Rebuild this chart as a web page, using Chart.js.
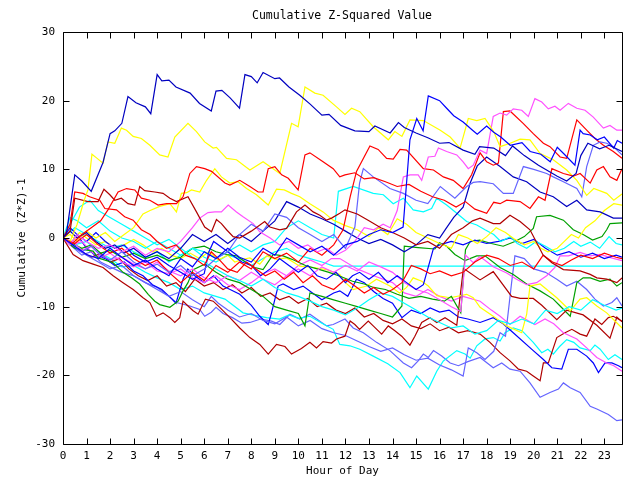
<!DOCTYPE html>
<html><head><meta charset="utf-8">
<script src="https://cdn.jsdelivr.net/npm/chart.js@4/dist/chart.umd.min.js"></script>
<style>html,body{margin:0;padding:0;background:#fff}#wrap{width:640px;height:480px}</style>
</head><body><div id="wrap"><canvas id="c" width="640" height="480"></canvas></div>
<script>
const chartTitle = "Cumulative Z-Squared Value";
const xTitle = "Hour of Day";
const yTitle = "Cumulative (Z*Z)-1";
const hourTicks = [0,1,2,3,4,5,6,7,8,9,10,11,12,13,14,15,16,17,18,19,20,21,22,23];
const valueTicks = [-30,-20,-10,0,10,20,30];

// each series: [hour, cumulative value]
const darkBlue1 = [[0,0],[0.15,0.7],[0.5,9.2],[0.8,8.3],[1.2,6.8],[1.7,11],[2,15.2],[2.2,15.6],[2.5,16.7],[2.76,20.6],[3.1,19.7],[3.5,19.1],[3.73,18.1],[4,23.8],[4.2,22.9],[4.5,23],[4.8,22],[5.4,21.1],[5.8,19.6],[6.3,18.5],[6.5,21.4],[6.75,21.5],[7.1,20.4],[7.5,18.9],[7.73,23.8],[8,23.5],[8.25,22.6],[8.5,24.1],[9,23.2],[9.2,23.3],[9.6,22],[10.06,20.8],[10.5,19.5],[11,17.9],[11.3,18],[11.8,16.4],[12.4,15.6],[13,15.5],[13.25,16.3],[13.9,15.3],[14.25,16.8],[14.5,16.1],[15,15.3],[15.5,14.6],[16,13.8],[16.4,13.9],[17,12.8],[17.5,12.2],[17.7,13.3],[18.3,13.1],[18.8,12],[19.1,13.4],[19.6,12],[20.2,10.6],[20.6,9.8],[21,9],[21.4,8.3],[21.8,9.4],[22,12],[22.3,13.8],[22.8,13],[23.2,13.5],[23.75,12.6]];
const blue2 = [[0,0],[0.5,-1.2],[1,-2.4],[1.5,-3],[2,-1.5],[2.5,-2.8],[3,-4],[3.5,-3.2],[4,-4.5],[4.5,-5.5],[5,-3],[5.5,-4.2],[6,-2],[6.5,-3],[7,-1.5],[7.5,-2.8],[8,-3.5],[8.5,-1.5],[9,-2.5],[9.5,0],[10,-1],[10.5,-2],[11,-1.2],[11.5,-2.5],[12,-1],[12.5,-0.5],[13,0.5],[13.5,1.2],[14,0.8],[14.45,1.6],[14.74,14.3],[15.03,17.4],[15.3,15.6],[15.52,20.7],[16,20],[16.3,18.9],[16.6,17.8],[17,16.9],[17.4,15.7],[17.6,15.1],[18,16.3],[18.3,15.4],[18.6,14.7],[19,13.5],[19.5,13.9],[19.85,12.6],[20.3,12.2],[20.7,11.1],[21,13.2],[21.3,12.2],[21.75,10.6],[21.97,15.7],[22.1,15.2],[22.4,15],[22.7,14.3],[23,14.7],[23.4,13.1],[23.55,14.2],[23.75,13.8]];
const blue3 = [[0,0],[0.3,-1],[0.6,0.5],[1,-1.5],[1.4,-2.5],[1.8,-3],[2.2,-4],[2.6,-3.5],[3,-4.8],[3.4,-5.5],[3.8,-6.8],[4.2,-7.5],[4.6,-8.8],[4.8,-9.5],[5.1,-6],[5.3,-4.5],[5.6,-5.5],[6,-6.5],[6.4,-5.5],[6.8,-7],[7.1,-7.5],[7.51,-8.2],[8,-9.8],[8.36,-11.4],[8.72,-12.6],[8.86,-10.9],[9.14,-7],[9.35,-6.7],[9.8,-7.5],[10.2,-7],[10.6,-8],[11,-9],[11.5,-8],[11.76,-7.7],[12.1,-8.5],[12.47,-6],[12.8,-6.5],[13.2,-7.8],[13.6,-8.8],[14,-9.5],[14.4,-11.6],[14.8,-10.5],[15.2,-11],[15.6,-10.2],[16,-10.8],[16.4,-10.5],[16.8,-11.5],[17.2,-11.8],[17.72,-12.3],[18.28,-11.6],[18.7,-12.5],[19.13,-13.8],[19.98,-16.4],[20.41,-17.7],[20.77,-18.9],[21.19,-19.1],[21.47,-16.2],[21.83,-16.2],[22.25,-17.2],[22.53,-18.2],[22.75,-19.6],[23.03,-18.2],[23.32,-18.2],[23.6,-18.6],[23.75,-18.9]];
const darkBlue4 = [[0,0],[0.3,1],[0.6,0],[1,0.8],[1.4,-0.5],[1.8,-1.5],[2.2,-1],[2.6,-2.2],[3,-1.5],[3.5,-2.8],[4,-2],[4.5,-3],[5,-1.5],[5.5,0.5],[6,-0.5],[6.5,0.5],[7,-0.8],[7.5,0.5],[8,-0.5],[8.5,1],[9,2.5],[9.5,5.3],[10,4.5],[10.5,3.5],[11,2.8],[11.5,2],[12,1],[12.5,0],[13,-0.8],[13.5,-0.2],[14,-1],[14.5,-2],[15,-1],[15.5,0.5],[16,0],[16.3,1.5],[16.6,3],[17,4.5],[17.3,8],[17.6,10.5],[18,11.8],[18.57,10.4],[19.13,8.9],[19.7,8.2],[20.27,6.7],[20.83,6],[21.4,4.6],[21.83,5.5],[22.25,4.1],[22.82,3.8],[23.38,2.9],[23.75,2.9]];
const blue6 = [[0,0],[0.3,1.5],[0.6,0.5],[1,-0.5],[1.4,0.8],[1.8,-0.5],[2.2,-1.5],[2.6,-1],[3,-2.5],[3.5,-3.5],[4,-2.8],[4.5,-4],[5,-5],[5.5,-6],[6,-5.2],[6.2,-2],[6.4,-0.5],[6.8,-1.5],[7.2,-2.5],[7.6,-3.5],[8,-4],[8.4,-5.5],[8.8,-4.5],[9.2,-3],[9.6,-4],[10,-5],[10.4,-4],[10.8,-5.5],[11.2,-6],[11.6,-5],[12,-6.5],[12.3,-5.5],[12.6,-5],[13,-6],[13.4,-5],[13.8,-6.5],[14.2,-5.5],[14.6,-6.5],[15,-7.5],[15.31,-6.8],[15.74,-1.5],[16,-1],[16.5,-0.5],[17,-1],[17.5,-0.3],[18,-0.8],[18.5,-0.5],[19,0],[19.5,-0.8],[20,-0.2],[20.5,-1.5],[21,-2.5],[21.5,-2],[22,-2.8],[22.5,-2.2],[23,-3],[23.5,-2.5],[23.75,-2.8]];
const lightBlue1 = [[0,0],[0.4,-1],[0.8,-2],[1.2,-1.2],[1.6,-2.5],[2,-3.2],[2.5,-2],[3,-3.5],[3.5,-4.5],[4,-3.8],[4.5,-5],[5,-4],[5.5,-5.5],[6,-4.5],[6.5,-3],[7,-2],[7.5,0.5],[8,2],[8.5,1],[9,3.5],[9.5,3],[10,1.5],[10.5,0.5],[11,-0.5],[11.5,0.5],[12,-1.5],[12.4,1.6],[12.6,8],[12.76,10.1],[13.18,8.9],[13.89,7.2],[14.46,6.5],[15,5.5],[15.5,5],[16.03,7.5],[16.65,5.8],[17.15,7.5],[17.43,8.1],[17.72,8.2],[18.28,7.9],[18.71,6.5],[19.13,6.5],[19.56,10.4],[20,10],[20.55,9.4],[20.83,8.9],[21.26,8.2],[21.83,7.2],[22.04,6],[22.25,10.4],[22.53,13.5],[22.82,14],[23.1,13.8],[23.38,13.3],[23.75,12.1]];
const lightBlue2 = [[0,0],[0.4,-1.3],[0.8,-2.5],[1.2,-2],[1.6,-3.5],[2,-4.2],[2.5,-5],[3,-5.5],[3.5,-6.5],[4,-7.2],[4.5,-8.5],[4.82,-9.4],[5.39,-9.9],[5.81,-10.4],[6.02,-11.4],[6.3,-10.8],[6.5,-10.1],[6.8,-11],[7.2,-11.6],[7.6,-12.4],[7.94,-12.3],[8.4,-11.8],[8.86,-12.1],[9.21,-12.6],[9.64,-11.1],[10.06,-11.8],[10.49,-11.1],[11.2,-12.8],[11.48,-12.6],[11.98,-11.8],[12.33,-13.1],[12.76,-13.8],[13.32,-15.2],[13.89,-16.4],[14.46,-18.2],[14.81,-18.9],[15.09,-17.9],[15.31,-16.9],[15.52,-17.4],[15.74,-16.4],[16.09,-17.2],[16.45,-18.2],[16.8,-18.6],[17.2,-18],[17.72,-17.4],[18.28,-18.9],[18.64,-18.2],[18.99,-19.1],[19.42,-19.4],[19.84,-21.1],[20.27,-23.2],[20.69,-22.5],[21.05,-22],[21.26,-21.1],[21.55,-21.8],[21.97,-22.5],[22.4,-24.5],[22.68,-24.9],[23.17,-25.7],[23.53,-26.6],[23.75,-26.5]];
const lightBlue3 = [[0,0],[0.5,-1.5],[1,-2.5],[1.5,-3.5],[2,-4.5],[2.5,-4],[3,-5.5],[3.5,-6.5],[4,-7.5],[4.5,-8.5],[5,-7.8],[5.5,-9],[6,-10],[6.3,-8.5],[6.6,-9.5],[7,-10.5],[7.5,-11.5],[8,-11],[8.5,-12],[9,-12.5],[9.5,-11.5],[10,-12.8],[10.5,-12],[11,-13.2],[11.5,-13.8],[12,-14.2],[12.5,-15],[13,-15.8],[13.5,-16.5],[14,-16],[14.5,-17],[15,-17.8],[15.5,-17.5],[16,-18.5],[16.5,-19.2],[17,-20.1],[17.22,-16],[17.58,-16.7],[17.93,-17.7],[18.3,-16.5],[18.57,-13.8],[18.8,-14.3],[19.06,-6.5],[19.2,-2.6],[19.6,-3],[20,-4.5],[20.5,-5],[20.98,-6],[21.4,-7],[21.83,-6.3],[22.25,-7.5],[22.6,-8.9],[22.96,-9.9],[23.32,-9.4],[23.53,-8.7],[23.75,-9.9]];
const red1 = [[0,0],[0.4,-0.8],[0.8,0.5],[1.2,1.5],[1.6,2.5],[1.91,4.1],[2.34,6.7],[2.7,7.2],[3.05,7],[3.33,5.8],[3.69,5.5],[4.04,4.8],[4.4,5],[4.82,5],[5.1,6],[5.39,9.4],[5.67,10.4],[6.02,10.1],[6.31,9.7],[6.88,8],[7.09,7.7],[7.51,8.4],[7.94,7.5],[8.29,6.7],[8.5,6.7],[8.72,10.1],[9,10.4],[9.29,9.2],[9.57,8.7],[9.99,7],[10.28,12.1],[10.49,12.4],[11.05,11.1],[11.48,10.1],[11.76,8.9],[11.98,9.2],[12.4,9.5],[12.8,8.6],[13.2,8.8],[13.7,8.2],[14.2,7.5],[14.7,7.8],[15.2,6.8],[15.7,6],[16.2,5.5],[16.7,4.5],[17.1,5.3],[17.5,4.2],[18,3.6],[18.3,5.2],[18.57,5],[18.85,5.5],[19.42,5.3],[19.84,4.3],[20.2,6],[20.48,5.5],[20.77,10.1],[21.26,9.4],[21.68,9],[21.97,9.4],[22.4,8],[22.68,9.9],[22.96,10.4],[23.24,8.9],[23.53,8.4],[23.75,10.1]];
const red2 = [[0,0],[0.5,-0.8],[1,0.5],[1.5,-1],[2,-2.2],[2.5,-1.5],[3,-3],[3.5,-4],[4,-3.2],[4.5,-5],[5,-6.5],[5.5,-5],[6,-6.2],[6.5,-4],[7,-5],[7.5,-3.5],[8,-4.5],[8.5,-2],[9,-3],[9.5,-2.2],[10,-3.5],[10.5,-1.5],[11,-2.5],[11.5,-1],[11.9,1.2],[12.2,6],[12.47,9.7],[13.04,13.4],[13.39,12.9],[13.75,11.6],[14.03,11.5],[14.32,12.9],[14.6,12.8],[15.31,10.1],[15.74,9.9],[16.16,8.9],[16.58,8.4],[17,7.2],[17.36,9.2],[17.72,12.4],[18,11.1],[18.28,10.6],[18.5,10.9],[18.71,18.4],[18.99,18.5],[19.55,16.7],[19.98,15.2],[20.41,13.8],[20.69,13.3],[21.12,11.8],[21.4,11.6],[21.83,17.2],[22.25,15.7],[22.6,14.5],[22.96,13.5],[23.38,12.6],[23.75,11.6]];
const red3 = [[0,0],[0.3,2],[0.5,6.7],[0.85,6.5],[1.13,6],[1.56,5.5],[1.78,4.3],[2.27,4.1],[2.62,3.1],[2.98,2.6],[3.33,1.2],[3.7,0.5],[4,-0.5],[4.4,-1.5],[4.8,-1],[5.2,-2.5],[5.6,-3],[6,-4],[6.3,-2],[6.6,-3],[7,-4.5],[7.4,-5],[7.8,-3.5],[8.2,-4.5],[8.6,-5.5],[9,-4.8],[9.4,-6],[9.8,-5],[10.2,-6.5],[10.6,-5.5],[11,-6.8],[11.5,-7.5],[12,-6],[12.4,-7],[12.8,-8],[13.2,-7.2],[13.6,-8.2],[14,-7.5],[14.4,-6.5],[14.8,-4],[15.2,-4.5],[15.6,-5.2],[16,-4.8],[16.5,-5.5],[17,-5],[17.5,-3.5],[18,-2.5],[18.5,-3],[19,-4],[19.5,-3.5],[20,-4.5],[20.4,-2.5],[20.8,-3.5],[21.2,-4],[21.6,-3.2],[22,-2.5],[22.5,-3],[23,-2.2],[23.5,-2.8],[23.75,-3]];
const darkRed1 = [[0,0],[0.3,1],[0.5,5.8],[1.06,5.3],[1.49,5.3],[1.74,7.1],[1.99,6.3],[2.2,5.5],[2.48,5.8],[2.76,5],[3.05,4.8],[3.26,7.5],[3.47,6.9],[3.9,6.7],[4.25,6.5],[4.54,5.8],[4.82,5.3],[5.31,6],[5.67,3.8],[6.02,1.6],[6.31,0.9],[6.52,2.7],[6.73,2.1],[6.95,1.2],[7.23,0.2],[7.5,0],[8,1],[8.57,2.4],[8.79,1.6],[9.21,1.2],[9.5,1.4],[9.92,3.8],[10.28,4.8],[10.63,3.8],[10.91,3.3],[11.2,2.6],[11.41,2.9],[11.76,3.6],[11.98,4.1],[12.5,3.5],[13,2.5],[13.5,1.5],[14,0.8],[14.5,0],[15,-1],[15.5,-0.5],[16,-1.5],[16.5,0.5],[17,1.5],[17.4,2.5],[17.72,2.9],[18.28,2.1],[18.57,2.1],[18.99,3.3],[19.42,2.4],[19.84,1.2],[20.1,-0.5],[20.4,-2.5],[20.77,-3.6],[21.26,-4.6],[21.97,-4.8],[22.4,-5.3],[22.68,-5.8],[23.1,-6],[23.53,-6.5],[23.75,-5.8]];
const darkRedLow = [[0,0],[0.43,-2.4],[0.85,-3.3],[1.28,-3.8],[1.7,-4.3],[2.13,-5.5],[2.55,-6.5],[2.98,-7.5],[3.4,-8.7],[3.69,-9.4],[3.97,-11.4],[4.25,-10.9],[4.54,-11.6],[4.75,-12.3],[4.96,-11.6],[5.1,-9.2],[5.31,-9.9],[5.53,-10.6],[5.74,-11.1],[6.05,-8.9],[6.38,-9.2],[6.66,-10.1],[7.09,-11.6],[7.51,-13.1],[7.94,-14.5],[8.36,-15.5],[8.72,-16.9],[9.07,-15.5],[9.43,-15.8],[9.71,-16.9],[10.13,-16.1],[10.49,-15.2],[10.77,-16],[11.05,-15.1],[11.41,-15.3],[11.62,-14.7],[11.98,-14.3],[12.2,-12.1],[12.4,-12.6],[12.6,-13.3],[12.97,-12.1],[13.18,-12.8],[13.54,-14],[13.82,-12.8],[14.1,-13.5],[14.39,-14.3],[14.74,-15.6],[14.95,-14.3],[15.24,-12.3],[15.59,-11.6],[15.88,-12.3],[16.23,-11.6],[16.45,-12.1],[16.73,-12.7],[17.01,-4.4],[17.72,-6.1],[18.28,-4.9],[19.06,-8.5],[19.42,-8.8],[19.98,-8.8],[20.34,-9.8],[20.98,-11.9],[21.4,-10.5],[22.1,-11.2],[22.68,-12.7],[23.24,-14.6],[23.53,-11.5],[23.75,-12.2]];
const darkRed4 = [[0,0],[0.4,-1.2],[0.8,-2],[1.2,-2.8],[1.6,-2.2],[2,-3.5],[2.4,-3],[2.8,-4.5],[3.2,-5.5],[3.6,-6.2],[4,-5.5],[4.4,-7],[4.8,-6.5],[5.2,-7.8],[5.6,-6],[6,-7],[6.4,-6.5],[6.8,-7.5],[7.2,-6.8],[7.6,-8],[8,-7.2],[8.4,-8.5],[8.8,-8],[9.2,-9],[9.6,-8.5],[10,-9.5],[10.4,-8.8],[10.8,-10],[11.2,-9.5],[11.6,-10.5],[12,-11],[12.4,-10.2],[12.8,-11.5],[13.2,-11],[13.6,-12],[14,-12.5],[14.4,-11.8],[14.8,-12.8],[15.2,-13.2],[15.6,-12.5],[16,-13.5],[16.4,-13],[16.8,-13.8],[17.2,-13.5],[17.72,-14],[18.14,-15.2],[18.57,-16.7],[18.99,-17.9],[19.35,-19.1],[19.7,-19.4],[19.98,-20.1],[20.27,-20.8],[20.41,-18.2],[20.62,-18.2],[20.98,-14.5],[21.33,-13.8],[21.62,-13.3],[21.97,-14],[22.25,-14.3],[22.6,-11.8],[22.89,-12.6],[23.17,-11.6],[23.38,-11.4],[23.75,-12.1]];
const yellow1 = [[0,0],[0.3,-0.5],[0.6,2],[0.9,5.5],[1.06,7],[1.23,12.2],[1.45,11.6],[1.7,10.9],[1.91,14],[2.2,13.8],[2.48,16],[2.7,15.7],[2.98,14.8],[3.33,14.5],[3.69,13.5],[4.11,12.1],[4.46,11.8],[4.75,14.7],[5.31,16.7],[5.67,15.5],[6.02,14],[6.38,13.1],[6.52,13.2],[6.95,11.6],[7.37,11.4],[7.94,9.9],[8.5,11.1],[8.79,10.4],[9.21,9.4],[9.71,16.7],[9.99,16.2],[10.28,22],[10.7,21.1],[11.05,20.8],[11.62,19.1],[11.98,18],[12.26,18.9],[12.61,18.4],[13.18,16.2],[13.82,14.3],[14.1,15.5],[14.4,14.8],[14.74,17.2],[15.31,17.1],[16.03,15.7],[16.45,14.7],[16.87,13.1],[17.22,17.4],[17.58,17.1],[17.93,17.4],[18.3,15.5],[18.57,13.3],[19,13.8],[19.42,14.4],[19.84,14.3],[20.27,12.3],[20.83,11.4],[21.4,9.9],[21.83,8.4],[22.25,6.2],[22.55,7.2],[23.1,6.5],[23.4,5.5],[23.75,6.4]];
const yellow2 = [[0,0],[0.3,0.5],[0.6,-0.5],[1,1],[1.4,0],[1.8,0.8],[2.2,-0.5],[2.6,0.5],[3,1.5],[3.4,3.5],[3.7,4],[4.11,4.6],[4.54,5],[4.82,3.8],[5.03,6.5],[5.25,6.6],[5.46,7],[5.81,6.7],[6.1,8.4],[6.45,10.1],[6.73,8.9],[7.09,8],[7.44,8.2],[7.8,7.2],[8.22,6.3],[8.72,4.8],[9.07,7.1],[9.4,7],[9.71,6.5],[10.06,6],[10.49,5],[11.05,3.8],[11.48,2.6],[12,1.8],[12.5,1.2],[13,0.2],[13.4,1.5],[13.8,0.5],[14.2,2.8],[14.6,2],[15,0.8],[15.5,0],[16,-0.8],[16.5,-1.5],[16.8,0.5],[17.2,0],[17.6,-0.8],[18,0.2],[18.4,1.5],[18.8,0.8],[19.2,-0.2],[19.6,-1],[20,-0.5],[20.3,-1.5],[20.6,-2],[21,-1.5],[21.3,-0.5],[21.6,0.5],[21.9,0],[22.2,1.5],[22.6,2.5],[23,4],[23.4,5],[23.75,4.8]];
const yellow3 = [[0,0],[0.3,-0.8],[0.7,0.8],[1,0],[1.4,-1],[1.8,-0.5],[2.2,-1.5],[2.6,-1],[3,-0.2],[3.4,-1],[3.8,-2],[4.2,-1.5],[4.6,-2.5],[5,-3],[5.4,-2.2],[5.8,-3],[6.2,-2],[6.6,-3.2],[7,-2.5],[7.3,-3.5],[7.65,-3.1],[7.94,-2.9],[8.36,-3.8],[8.65,-2.6],[9.07,-3.1],[9.5,-2.9],[10.06,-4.1],[10.63,-4.3],[11.2,-4.6],[11.76,-5.3],[12,-6.5],[12.33,-7.5],[12.9,-7],[13.32,-6],[13.89,-7],[14.3,-8],[14.6,-7.2],[14.88,-5.8],[15.24,-6.3],[15.52,-7],[15.88,-8.4],[16.45,-8.7],[17.15,-8.2],[17.43,-8.7],[17.72,-10.1],[18.28,-11.4],[18.85,-12.8],[19.49,-13.8],[19.7,-11.1],[19.84,-7],[20.27,-6.7],[20.98,-8.7],[21.55,-10.6],[21.97,-8.9],[22.25,-8.7],[22.68,-9.9],[23.1,-10.9],[23.75,-13.1]];
const magenta1 = [[0,0],[0.3,-1],[0.6,0.5],[1,-0.5],[1.5,-1.5],[2,-1],[2.5,-2],[3,-1.2],[3.5,-2.5],[4,-1.5],[4.5,-2],[5,-0.5],[5.5,1.5],[5.81,2.9],[6.16,3.7],[6.45,3.8],[6.73,3.8],[7.02,4.8],[7.37,3.8],[7.65,3.1],[8.08,2.1],[8.36,0.9],[8.8,0],[9.2,-1],[9.6,-0.5],[10,-1.5],[10.4,-1],[10.8,-2],[11.2,-1.5],[11.6,-2.5],[12,-1.8],[12.4,-0.5],[12.8,1.5],[13.2,1.2],[13.6,2],[13.9,1.5],[14.2,4],[14.46,8.9],[14.74,9.2],[15.09,9.2],[15.24,8.4],[15.52,11.8],[15.8,11.9],[15.95,13.1],[16.3,12.6],[16.73,12.1],[17,11.1],[17.22,10.1],[17.43,10.6],[17.72,12.8],[18,12.3],[18.28,17.7],[18.57,18.2],[18.85,17.9],[19.13,18.8],[19.49,18.6],[19.77,17.7],[20.05,20.3],[20.34,19.8],[20.62,18.8],[20.9,19.2],[21.12,18.6],[21.47,19.6],[21.83,18.9],[22.18,18.6],[22.53,17.6],[22.96,16],[23.24,16.4],[23.53,15.7],[23.75,15.7]];
const magenta2 = [[0,0],[0.4,-0.5],[0.8,-1.8],[1.2,-1.2],[1.6,-2.5],[2,-3.2],[2.5,-2.8],[3,-3.8],[3.5,-4.5],[4,-3.5],[4.5,-4.8],[5,-5.5],[5.5,-4.5],[6,-5.8],[6.5,-6.5],[7,-5.5],[7.5,-6.2],[8,-5],[8.5,-6],[9,-6.8],[9.5,-5.5],[10,-4.5],[10.5,-5.5],[11,-4.2],[11.5,-5],[12,-4],[12.5,-4.8],[13,-3.5],[13.5,-4.2],[14,-5],[14.5,-6.5],[15,-7.5],[15.5,-8],[16,-9],[16.5,-10],[16.9,-10.7],[17.1,-2.5],[17.43,-3.6],[17.72,-2.7],[18.28,-4.2],[18.85,-5.1],[19.27,-6],[19.7,-6.8],[20.12,-6.5],[20.55,-5.5],[20.9,-4.3],[21.12,-2.6],[21.47,-2.6],[21.97,-2.1],[22.4,-2.6],[22.82,-2.4],[23.3,-2.9],[23.75,-3.3]];
const magenta3 = [[0,0],[0.4,-1],[0.8,-0.5],[1.2,-2],[1.6,-2.8],[2,-2.2],[2.5,-3.5],[3,-4.2],[3.5,-3.5],[4,-4.8],[4.5,-5.2],[5,-4.5],[5.5,-5.8],[6,-6.5],[6.5,-5.5],[7,-6.8],[7.5,-7.5],[8,-6.5],[8.5,-5.2],[9,-4.5],[9.5,-5.5],[10,-4],[10.5,-3.2],[11,-4],[11.4,-3],[11.76,-3],[12.5,-4.5],[13.2,-5.5],[14,-6.5],[14.5,-8],[15,-8.5],[15.5,-7.5],[16,-8.5],[16.5,-9.2],[17,-8.5],[17.72,-9.2],[18.2,-10.5],[18.57,-11.4],[18.99,-12.6],[19.42,-11.4],[20.05,-12.6],[20.48,-11.8],[20.85,-12.5],[21.26,-13.8],[21.83,-14.7],[22.25,-16],[22.68,-17.4],[23.1,-18.2],[23.4,-18.6],[23.75,-19.4]];
const cyanFlat = [[0,0],[0.5,1.5],[1,0.5],[1.5,-0.5],[2,-1.5],[2.5,-1],[3,-2],[3.5,-2.8],[4,-2],[4.5,-3.5],[5,-2.5],[5.5,-1.5],[6,-2.8],[6.5,-3.5],[7,-2.5],[7.5,-3],[8,-4],[8.5,-3],[9,-2],[9.5,-1.5],[10,-2.5],[10.5,-3],[11,-3.5],[11.5,-4.1],[23.75,-4.1]];
const cyanLow = [[0,0],[0.5,-1],[1,-0.5],[1.5,-2],[2,-3],[2.5,-4.2],[3,-4],[3.5,-5],[4,-5.8],[4.5,-6.5],[5,-7.5],[5.5,-7],[6,-8],[6.5,-8.5],[6.88,-8.9],[7.65,-10.9],[8.2,-11.3],[8.65,-11.6],[9.2,-11.8],[9.6,-11.2],[10,-11.7],[10.49,-11.4],[11,-12.4],[11.48,-13.3],[11.76,-15.5],[12.19,-15.7],[12.61,-16.2],[13.18,-17.2],[13.8,-18.3],[14.32,-19.6],[14.74,-21.8],[15.03,-20.1],[15.52,-22],[15.88,-19.4],[16.16,-17.9],[16.73,-16.4],[17.08,-16.9],[17.3,-17.5],[17.58,-15.7],[17.93,-14.7],[18.28,-14.5],[18.57,-15],[18.78,-13.8],[19.13,-13.1],[19.5,-13.5],[19.98,-15.2],[20.34,-16.7],[20.6,-16.2],[20.83,-16.9],[21.1,-15.8],[21.4,-14.8],[21.7,-15.2],[21.97,-16],[22.4,-16.4],[22.6,-15.6],[22.82,-16.2],[23.17,-17.7],[23.45,-17],[23.75,-17.7]];
const cyan3 = [[0,0],[0.3,3],[0.6,2.5],[1,1.5],[1.5,2.5],[2,1],[2.5,0],[3,-0.5],[3.5,-1.5],[4,-0.5],[4.5,-1.5],[5,-2.5],[5.5,-1.5],[6,-2],[6.5,-3],[7,-2],[7.5,-1],[8,-2],[8.5,-1],[9,-0.5],[9.5,1.5],[10,2.5],[10.5,1.5],[11,0.5],[11.5,0],[11.7,6.8],[12.33,7.5],[13.18,6.5],[13.61,6.3],[14.03,5],[14.46,5.8],[14.88,4.1],[15.31,3.8],[15.66,4.3],[15.88,5.8],[16.3,4.8],[16.73,3.6],[17.15,2.4],[17.58,1.9],[17.93,1.2],[18.3,0.5],[18.6,-0.5],[19,0.2],[19.3,-0.8],[19.7,-1.5],[20.1,-0.5],[20.5,-1.2],[20.9,-2],[21.3,-1.5],[21.7,-0.5],[22,-1.2],[22.4,-0.6],[22.8,-1.5],[23.2,0.2],[23.5,-0.8],[23.75,-1]];
const cyan4 = [[0,0],[0.3,2],[0.7,4.5],[1.14,5.5],[1.5,4],[2,3],[2.5,2],[3,1],[3.5,0],[4,-1],[4.5,-0.2],[5,-1.5],[5.5,-2.8],[6,-3.5],[6.5,-4.5],[7,-5.5],[7.5,-6.2],[8,-7],[8.5,-6],[9,-7.2],[9.5,-8],[10,-8.5],[10.5,-9.2],[11,-10],[11.5,-10.5],[12,-11.2],[12.5,-10.2],[13,-9],[13.5,-8],[14,-8.5],[14.5,-9.5],[15,-10.5],[15.5,-11.5],[16,-12.3],[16.5,-13.1],[17,-12.8],[17.5,-14],[18,-13.5],[18.5,-12],[19,-12.5],[19.5,-11.8],[20,-12.5],[20.5,-10.5],[21,-11],[21.5,-10],[22,-10.5],[22.5,-9],[23,-9.8],[23.5,-10.5],[23.75,-10.2]];
const green1 = [[0,0],[0.5,-1.5],[1.28,-1.9],[1.49,-2.9],[2.13,-3.6],[2.55,-5],[2.91,-5.8],[3.26,-6.7],[3.62,-8.2],[3.9,-9.2],[4.11,-9.7],[4.54,-10.1],[4.89,-9.2],[5.1,-7.7],[5.31,-6.5],[5.53,-4.6],[6.02,-3.8],[6.5,-5],[7,-6],[7.5,-6.5],[8,-7.5],[8.5,-8.5],[9,-10],[9.5,-10.5],[10,-11],[10.28,-12.8],[10.49,-8],[11,-8.5],[11.5,-9],[12,-9.5],[12.5,-10],[13,-10.5],[13.5,-11],[14,-11.5],[14.4,-9.9],[14.5,-1.2],[15.09,-1.4],[15.8,-1.6],[16,-0.7],[16.3,-1.2],[16.65,-2.4],[17.08,-3.3],[17.58,-2.6],[17.93,-2.6],[18.57,-4.3],[19.13,-5.3],[19.7,-6.7],[20.27,-7.7],[20.83,-8.9],[21.12,-9.9],[21.55,-11.4],[21.83,-6.5],[22.1,-5.8],[22.4,-5.8],[22.82,-6.3],[23.24,-6],[23.53,-7],[23.75,-6.5]];
const green2 = [[0,0],[0.4,-0.8],[0.8,-1.5],[1.2,-1],[1.6,-2.2],[2,-1.8],[2.5,-2.8],[3,-2.2],[3.5,-3],[4,-2.5],[4.5,-3.3],[5,-2.8],[5.5,-1.5],[6,-1.2],[6.5,-2],[6.95,-2.4],[7.37,-2.6],[7.8,-3.6],[8.15,-4.3],[8.5,-4.6],[8.93,-2.4],[9.35,-2.6],[9.8,-3.2],[10.3,-4],[10.8,-4.5],[11.3,-5],[11.8,-5.6],[12.3,-6.3],[12.8,-6.7],[13.2,-7.2],[13.7,-7.5],[14.2,-8.2],[14.7,-8.8],[15.2,-8.5],[15.7,-8.9],[16.2,-9.2],[16.5,-8.5],[16.9,-10.9],[17.1,-1.7],[17.3,-0.5],[17.7,-0.3],[18.2,-0.8],[18.7,-1.2],[19.2,-0.5],[19.6,0.2],[19.98,1.4],[20.12,3.1],[20.69,3.3],[21.26,2.6],[21.68,1.2],[22.1,0.5],[22.5,-0.3],[22.9,0.2],[23.1,1.2],[23.24,2.1],[23.75,2.2]];

const DB = "#0000c0", B = "#0000ff", LB = "#6464ff", R = "#ff0000", DR = "#b00000", Y = "#ffff00", M = "#ff50ff", C = "#00ffff", G = "#00a000";
const seriesList = [
  [darkBlue1, DB], [blue2, B], [red1, R], [yellow1, Y], [darkRed1, DR], [red3, R],
  [lightBlue1, LB], [magenta1, M], [red2, R], [darkBlue4, DB], [yellow2, Y], [cyan3, C],
  [cyan4, C], [blue6, B], [magenta2, M], [green2, G], [yellow3, Y], [darkRedLow, DR],
  [green1, G], [lightBlue3, LB], [magenta3, M], [blue3, B], [darkRed4, DR], [cyanLow, C],
  [lightBlue2, LB], [cyanFlat, C]
];

const datasets = seriesList.map(([pts, col]) => ({
  data: pts.map(p => ({x: p[0], y: p[1]})),
  borderColor: col, borderWidth: 1.2, pointRadius: 0, tension: 0, fill: false
}));

const FONT = "'DejaVu Sans Mono', monospace";
const frame = {
  id: 'frame',
  afterDatasetsDraw(chart) {
    const {ctx, chartArea: a, scales: {x, y}} = chart;
    ctx.save();
    ctx.strokeStyle = '#000'; ctx.lineWidth = 1;
    ctx.beginPath();
    const L = Math.round(a.left) + 0.5, Rr = Math.round(a.right) + 0.5, T = Math.round(a.top) + 0.5, Bt = Math.round(a.bottom) + 0.5;
    ctx.rect(L, T, Rr - L, Bt - T);
    hourTicks.forEach(h => {
      const px = Math.round(x.getPixelForValue(h)) + 0.5;
      ctx.moveTo(px, Bt); ctx.lineTo(px, Bt - 6);
      ctx.moveTo(px, T); ctx.lineTo(px, T + 6);
    });
    valueTicks.forEach(v => {
      const py = Math.round(y.getPixelForValue(v)) + 0.5;
      ctx.moveTo(L, py); ctx.lineTo(L + 6, py);
      ctx.moveTo(Rr, py); ctx.lineTo(Rr - 6, py);
    });
    ctx.stroke();
    ctx.fillStyle = '#000';
    ctx.font = "11.5px " + FONT;
    ctx.textAlign = 'center'; ctx.textBaseline = 'middle';
    ctx.fillText(chartTitle, 342, 16);
    ctx.restore();
  }
};

new Chart(document.getElementById('c'), {
  type: 'line',
  data: { datasets },
  plugins: [frame],
  options: {
    responsive: false, animation: false, devicePixelRatio: 1,
    layout: { padding: { left: 0, right: 18, top: 32, bottom: 0 } },
    plugins: { legend: { display: false }, tooltip: { enabled: false }, title: { display: false } },
    scales: {
      x: {
        type: 'linear', min: 0, max: 23.75,
        afterFit(s) { s.height = 36; },
        grid: { display: false, drawTicks: false },
        border: { display: false },
        ticks: { stepSize: 1, includeBounds: false, autoSkip: false, maxRotation: 0, padding: 6, color: '#000',
                 font: { family: FONT, size: 11 },
                 callback: v => Number.isInteger(v) ? String(v) : '' },
        title: { display: true, text: xTitle, color: '#000', font: { family: FONT, size: 11 }, padding: { top: 0, bottom: 2.4 } }
      },
      y: {
        type: 'linear', min: -30, max: 30,
        afterFit(s) { s.width = 63; },
        grid: { display: false, drawTicks: false },
        border: { display: false },
        ticks: { stepSize: 10, padding: 8, color: '#000', font: { family: FONT, size: 11 } },
        title: { display: true, text: yTitle, color: '#000', font: { family: FONT, size: 11 }, padding: { top: 15.4, bottom: 0 } }
      }
    }
  }
});
</script></body></html>
